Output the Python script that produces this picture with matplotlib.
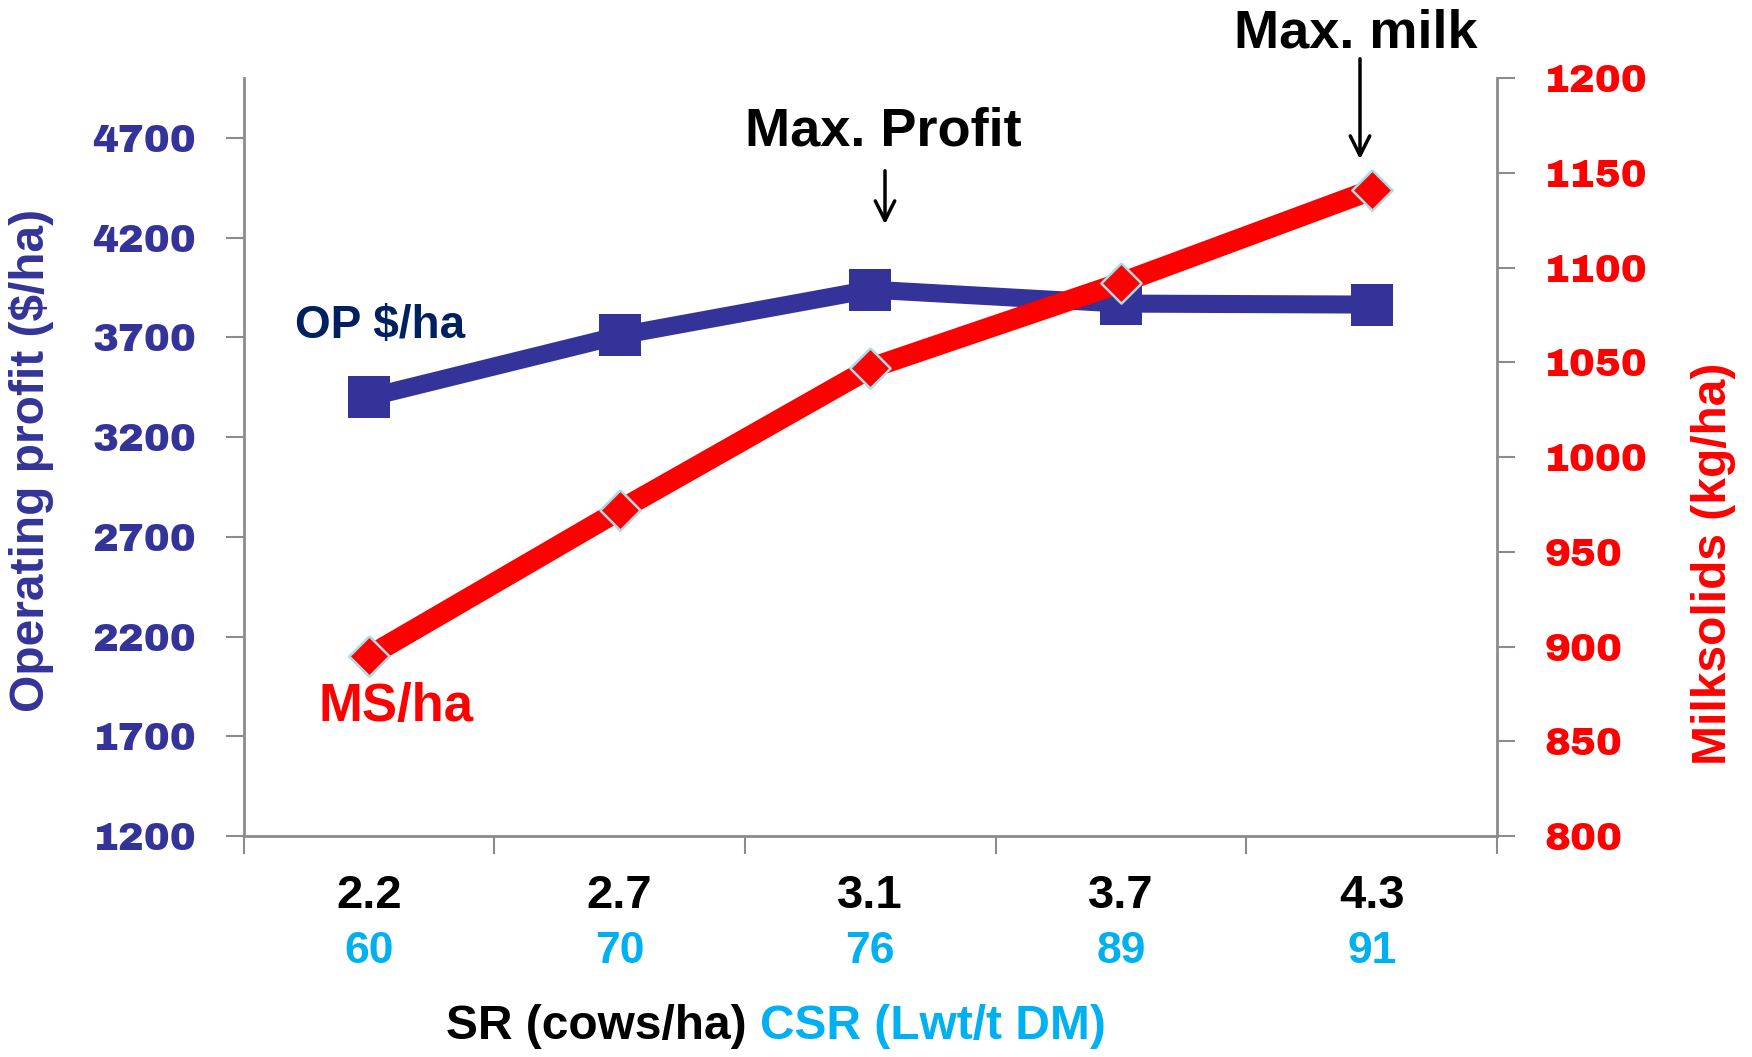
import matplotlib
matplotlib.use("Agg")
import matplotlib.pyplot as plt
from matplotlib.patches import FancyArrowPatch
from matplotlib.transforms import blended_transform_factory

# data
sr_labels = ["2.2", "2.7", "3.1", "3.7", "4.3"]
csr_labels = ["60", "70", "76", "89", "91"]
op_per_ha = [3400, 3710, 3940, 3870, 3865]
ms_per_ha = [895, 972, 1047, 1092, 1141]
op_ticks = [1200, 1700, 2200, 2700, 3200, 3700, 4200, 4700]
ms_ticks = [800, 850, 900, 950, 1000, 1050, 1100, 1150, 1200]

BLUE = "#333399"
RED = "#FF0000"
CYAN = "#00B0F0"
NAVY = "#002060"
GRAY = "#8c8c8c"
HEAVY = ["Archivo Black", "DejaVu Sans"]
SANS = ["Liberation Sans", "DejaVu Sans"]

fig = plt.figure(figsize=(17.52, 10.57), dpi=100)
ax = fig.add_axes([0.139, 0.209, 0.7155, 0.717])
ax2 = ax.twinx()

x = list(range(len(sr_labels)))
dm = [(0, 1), (1, 0), (0, -1), (-1, 0), (0, 1)]

ax.plot(x, op_per_ha, color=BLUE, lw=13, marker="s", ms=30,
        mfc=BLUE, mec=BLUE, mew=0, zorder=3)
ax2.plot(x, ms_per_ha, color=RED, lw=15, marker=dm, ms=29,
         mfc=RED, mec="#a8dce6", mew=1.8, zorder=4)

ax.set_xlim(-0.5, 4.5)
ax.set_ylim(1200, 5000)
ax2.set_ylim(800, 1200)
ax.set_yticks(op_ticks)
ax2.set_yticks(ms_ticks)
ax.set_xticks([i - 0.5 for i in range(len(sr_labels) + 1)])
ax.set_xticklabels([])

for a in (ax, ax2):
    a.spines["top"].set_visible(False)
    for s in ("left", "right", "bottom"):
        a.spines[s].set_color(GRAY)
        a.spines[s].set_linewidth(2)
ax.spines["right"].set_visible(False)
ax2.spines["left"].set_visible(False)
ax2.spines["bottom"].set_visible(False)

ax.tick_params(axis="x", direction="out", length=13, width=1.5, color=GRAY)
ax.tick_params(axis="y", direction="out", length=13, width=1.5, color=GRAY,
               pad=21, labelcolor=BLUE)
ax2.tick_params(axis="y", direction="out", length=13, width=1.5, color=GRAY,
                pad=21, labelcolor=RED)
for lab in ax.get_yticklabels() + ax2.get_yticklabels():
    lab.set_fontfamily(HEAVY)
    lab.set_fontweight("bold")
    lab.set_fontsize(28)

# two-row category labels
tr = blended_transform_factory(ax.transData, ax.transAxes)
for i in x:
    ax.text(i, -0.079, sr_labels[i], transform=tr, ha="center", va="center",
            fontsize=34, fontweight="bold", family=SANS, color="black")
    ax.text(i, -0.152, csr_labels[i], transform=tr, ha="center", va="center",
            fontsize=32, fontweight="bold", family=SANS, color=CYAN)

# axis titles
fig.text(0.434, 0.029, "SR (cows/ha) ", ha="right", va="center",
         fontsize=34.5, fontweight="bold", family=SANS, color="black")
fig.text(0.434, 0.029, "CSR (Lwt/t DM)", ha="left", va="center",
         fontsize=34.5, fontweight="bold", family=SANS, color=CYAN)
fig.text(32 / 1752, 1 - 460 / 1057, "Operating profit ($/ha)", rotation=90,
         ha="center", va="center", fontsize=34.5, fontweight="bold",
         family=SANS, color=BLUE)
fig.text(1713 / 1752, 1 - 564 / 1057, "Milksolids (kg/ha)", rotation=90,
         ha="center", va="center", fontsize=34.5, fontweight="bold",
         family=SANS, color=RED)

# series labels
fig.text(380 / 1752, 1 - 326 / 1057, "OP $/ha", ha="center", va="center",
         fontsize=33, fontweight="bold", family=SANS, color=NAVY)
fig.text(396 / 1752, 1 - 707 / 1057, "MS/ha", ha="center", va="center",
         fontsize=38, fontweight="bold", family=SANS, color=RED)

# callouts
fig.text(883 / 1752, 1 - 132 / 1057, "Max. Profit", ha="center", va="center",
         fontsize=39, fontweight="bold", family=SANS, color="black")
fig.text(1356 / 1752, 1 - 34 / 1057, "Max. milk", ha="center", va="center",
         fontsize=39, fontweight="bold", family=SANS, color="black")
arrow = dict(arrowstyle="->", color="black", lw=2.5, mutation_scale=35)
fig.add_artist(FancyArrowPatch((885 / 1752, 1 - 168 / 1057),
                               (885 / 1752, 1 - 227 / 1057),
                               transform=fig.transFigure, **arrow))
fig.add_artist(FancyArrowPatch((1360 / 1752, 1 - 56 / 1057),
                               (1360 / 1752, 1 - 162 / 1057),
                               transform=fig.transFigure, **arrow))

fig.savefig("out.png", dpi=100)
